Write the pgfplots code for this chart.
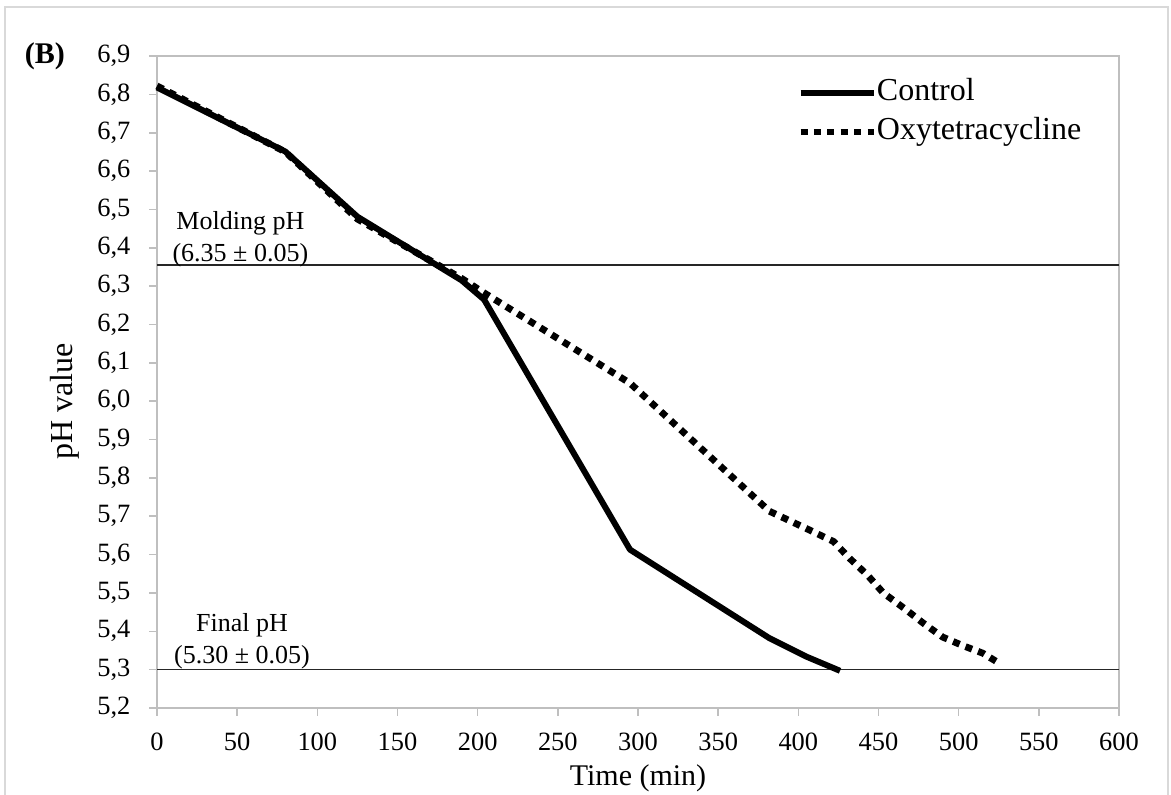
\documentclass[border=0pt]{standalone}
\usepackage{fontspec}
\setmainfont{Liberation Serif}
\usepackage{pgfplots}
\pgfplotsset{compat=1.18}

\begin{document}
\begin{tikzpicture}
\useasboundingbox (-78.5pt,-43pt) rectangle (507pt,354pt);
% outer chart frame
\draw[black!15, line width=0.8pt] (-76pt,-46pt) -- (-76pt,350.5pt) -- (505.5pt,350.5pt) -- (505.5pt,-46pt);
\begin{axis}[
  at={(0,0)}, anchor=south west,
  scale only axis, width=481pt, height=326pt,
  xmin=0, xmax=600, ymin=5.2, ymax=6.9,
  xtick={0,50,100,150,200,250,300,350,400,450,500,550,600},
  ytick={5.2,5.3,5.4,5.5,5.6,5.7,5.8,5.9,6.0,6.1,6.2,6.3,6.4,6.5,6.6,6.7,6.8,6.9},
  tick pos=left, tick align=outside, major tick length=3.8pt,
  every tick/.style={black!25, line width=0.8pt},
  axis line style={black!25, line width=0.9pt},
  tick label style={font=\fontsize{13.2}{15}\selectfont, /pgf/number format/assume math mode=true},
  yticklabel style={xshift=-6pt, /pgf/number format/.cd, fixed, fixed zerofill, precision=1, use comma},
  xticklabel style={yshift=-5pt, /pgf/number format/.cd, fixed, precision=0, set thousands separator={}},
  xlabel={Time (min)}, ylabel={pH value},
  xlabel style={font=\fontsize{15}{18}\selectfont, at={([yshift=-35pt]axis description cs:0.5,0)}, anchor=center},
  ylabel style={font=\fontsize{16}{18}\selectfont, at={([xshift=-46pt]axis description cs:0,0.47)}, anchor=center, rotate=0},
  legend style={at={(rel axis cs:0.665,0.966)}, anchor=north west, draw=none, fill=none,
    font=\fontsize{16}{19}\selectfont, inner sep=0pt, row sep=5pt,
    nodes={inner sep=0pt, text height=11pt, text depth=3.5pt},
    /tikz/every even column/.append style={column sep=2.5pt}},
  legend cell align=left,
  legend image code/.code={\draw[#1] (0pt,0pt) -- (36.5pt,0pt);},
  clip=false,
]
% reference levels
\addplot[black!85, line width=0.8pt, forget plot] coordinates {(0,6.355) (600,6.355)};
\addplot[black!85, line width=0.8pt, forget plot] coordinates {(0,5.30) (600,5.30)};

\addplot[black, line width=3pt, line join=round] coordinates {
  (0,6.818) (80,6.651) (125,6.481) (190,6.315) (204,6.265)
  (295,5.613) (382,5.382) (405,5.334) (426,5.297)
};
\addlegendentry{Control}
\addplot[black, line width=3.4pt, line cap=butt, dash pattern=on 3.5pt off 3.2pt] coordinates {
  (0,6.822) (80,6.650) (125,6.475) (190,6.320) (203,6.285) (295,6.047)
  (382,5.713) (407,5.664) (422,5.634) (432,5.590) (443,5.547) (453,5.500)
  (466,5.460) (478,5.421) (490,5.385) (503,5.362) (515,5.343) (526,5.315)
};
\addlegendentry{Oxytetracycline}

\node[font=\fontsize{13}{16}\selectfont, align=center] at (axis cs:52,6.423) {Molding pH\\(6.35 ± 0.05)};
\node[font=\fontsize{13}{16}\selectfont, align=center] at (axis cs:53,5.375) {Final pH\\(5.30 ± 0.05)};
\node[font=\bfseries\fontsize{15}{18}\selectfont] at (axis cs:-70,6.9) {(B)};
\end{axis}
\end{tikzpicture}
\end{document}
